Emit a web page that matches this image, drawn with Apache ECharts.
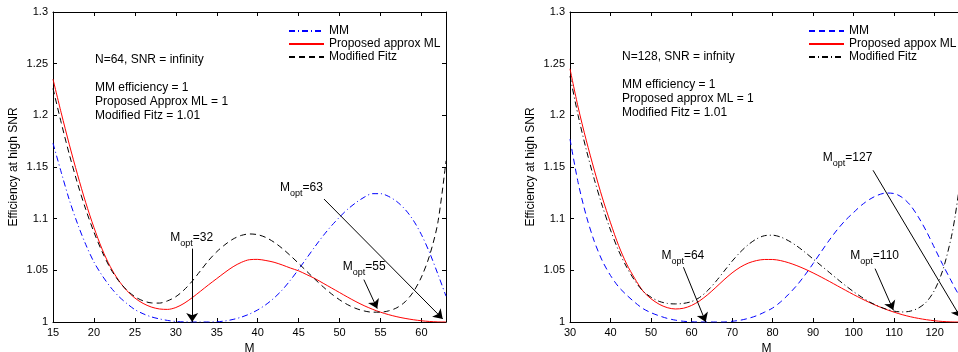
<!DOCTYPE html>
<html>
<head>
<meta charset="utf-8">
<script src="https://cdn.jsdelivr.net/npm/echarts@6/dist/echarts.min.js"></script>
<style>
  html, body { margin: 0; padding: 0; background: #fff; }
  #chart { width: 958px; height: 352px; }
</style>
</head>
<body>
<div id="chart"></div>
<script>
// N = 64 (left panel)
const mLeft = [15, 16, 17, 18, 19, 20, 21, 22, 23, 24, 25, 26, 27, 28, 29, 30, 31, 32, 33, 34, 35, 36, 37, 38, 39,
  40, 41, 42, 43, 44, 45, 46, 47, 48, 49, 50, 51, 52, 53, 54, 55, 56, 57, 58, 59, 60, 61, 62, 63];
const mmLeft = [1.173, 1.145, 1.118, 1.095, 1.075, 1.058, 1.045, 1.034, 1.025, 1.018, 1.012, 1.008, 1.005, 1.003, 1.0015,
  1.0005, 1.0001, 1.0, 1.0, 1.0, 1.0002, 1.001, 1.0025, 1.0047, 1.0077, 1.0117, 1.0168, 1.0232, 1.031, 1.0405, 1.051,
  1.062, 1.073, 1.0835, 1.093, 1.1015, 1.1092, 1.1155, 1.1207, 1.1242, 1.1242, 1.1215, 1.1165, 1.109, 1.0985, 1.0845,
  1.067, 1.0465, 1.025];
const mlLeft = [1.235, 1.2025, 1.1715, 1.1425, 1.1155, 1.0915, 1.0705, 1.0535, 1.0405, 1.0305, 1.0232, 1.018, 1.0145,
  1.0126, 1.0122, 1.014, 1.018, 1.0235, 1.0297, 1.036, 1.042, 1.048, 1.0535, 1.0577, 1.0603, 1.0606, 1.0595, 1.0578,
  1.0552, 1.0522, 1.0495, 1.0458, 1.042, 1.0375, 1.033, 1.0285, 1.024, 1.0197, 1.0158, 1.0124, 1.0095, 1.0071, 1.0051,
  1.0035, 1.0022, 1.0012, 1.0005, 1.0001, 1.0];
const fitzLeft = [1.226, 1.193, 1.162, 1.134, 1.109, 1.087, 1.068, 1.052, 1.040, 1.031, 1.0245, 1.0205, 1.0185, 1.0183,
  1.0205, 1.0245, 1.031, 1.0395, 1.0495, 1.0595, 1.068, 1.0748, 1.0803, 1.0838, 1.0852, 1.0845, 1.0818, 1.0772, 1.0712,
  1.0642, 1.0567, 1.049, 1.0413, 1.034, 1.0273, 1.0215, 1.0167, 1.0131, 1.0107, 1.0095, 1.0095, 1.0108, 1.0138, 1.0195,
  1.029, 1.0435, 1.0645, 1.096, 1.156];

// N = 128 (right panel)
const mRight = [30, 32, 34, 36, 38, 40, 42, 44, 46, 48, 50, 52, 54, 56, 58, 60, 62, 64, 66, 68, 70, 72, 74, 76, 78,
  80, 82, 84, 86, 88, 90, 92, 94, 96, 98, 100, 102, 104, 106, 108, 110, 112, 114, 116, 118, 120, 122, 124, 125, 126, 127];
const mmRight = [1.177, 1.135, 1.103, 1.078, 1.059, 1.045, 1.034, 1.026, 1.019, 1.013, 1.009, 1.006, 1.0035, 1.0018,
  1.0007, 1.0002, 1.0, 1.0, 1.0, 1.0, 1.0007, 1.0017, 1.0035, 1.006, 1.0095, 1.0135, 1.0195, 1.027, 1.0355, 1.0455,
  1.0565, 1.068, 1.0792, 1.0895, 1.0985, 1.106, 1.1132, 1.1188, 1.1228, 1.1248, 1.1243, 1.1205, 1.113, 1.1015, 1.0875,
  1.0715, 1.0555, 1.0405, 1.033, 1.026, 1.019];
const mlRight = [1.245, 1.208, 1.176, 1.147, 1.12, 1.096, 1.074, 1.056, 1.042, 1.030, 1.0225, 1.0172, 1.0139, 1.0126,
  1.0133, 1.016, 1.0205, 1.0265, 1.0335, 1.0408, 1.0475, 1.053, 1.057, 1.0594, 1.0605, 1.0605, 1.0594, 1.0573, 1.0545,
  1.0512, 1.0475, 1.0435, 1.0393, 1.035, 1.0307, 1.0265, 1.0225, 1.0187, 1.0153, 1.0122, 1.0095, 1.0071, 1.0051,
  1.0035, 1.0022, 1.0012, 1.0005, 1.0001, 1.0, 1.0, 1.0];
const fitzRight = [1.238, 1.200, 1.167, 1.138, 1.112, 1.089, 1.069, 1.053, 1.040, 1.030, 1.024, 1.020, 1.018, 1.0175,
  1.018, 1.0198, 1.0238, 1.0305, 1.0392, 1.049, 1.0588, 1.0675, 1.0748, 1.0803, 1.0835, 1.084, 1.0822, 1.0785, 1.0735,
  1.0675, 1.061, 1.0545, 1.048, 1.0415, 1.0352, 1.0293, 1.024, 1.0193, 1.0155, 1.0125, 1.0105, 1.0097, 1.0105, 1.0135,
  1.0195, 1.031, 1.05, 1.08, 1.101, 1.128, 1.16];

// annotation arrows: [fromM, fromEff, toM, toEff]
const arrowsLeft = [[32, 1.071, 32, 1.0], [52.97, 1.041, 54.6, 1.013], [48.1, 1.119, 62.6, 1.003]];
const arrowsRight = [[58, 1.053, 63.5, 1.0], [105.3, 1.0516, 109.8, 1.0115], [104.8, 1.1468, 126.4, 1.0045]];
// M_opt labels: [M, Eff, value]
const labelsLeft = [[31.94, 1.0815, '32'], [53.0, 1.054, '55'], [45.35, 1.130, '63']];
const labelsRight = [[57.85, 1.0646, '64'], [105.2, 1.0646, '110'], [98.5, 1.159, '127']];

const font = 'Liberation Sans, Arial, Helvetica, sans-serif';
const zip = (xs, ys) => xs.map((x, i) => [x, ys[i]]);

const chart = echarts.init(document.getElementById('chart'));

function xAx(gi, min, max, interval, pos) {
  const bottom = pos === 'bottom';
  return {
    type: 'value', gridIndex: gi, position: pos, min: min, max: max, interval: interval,
    name: bottom ? 'M' : '', nameLocation: 'middle', nameGap: 19,
    nameTextStyle: { color: '#000', fontSize: 12, fontFamily: font },
    axisLine: { show: true, onZero: false, lineStyle: { color: '#000', width: 1 } },
    axisTick: { show: true, inside: true, length: 4, lineStyle: { color: '#000' } },
    axisLabel: { show: bottom, showMaxLabel: false, color: '#000', fontSize: 11, fontFamily: font, margin: 5 },
    splitLine: { show: false }
  };
}
function yAx(gi, pos) {
  const left = pos === 'left';
  return {
    type: 'value', gridIndex: gi, position: pos, min: 1, max: 1.3, interval: 0.05,
    name: left ? 'Efficiency at high SNR' : '', nameLocation: 'middle', nameGap: 33,
    nameTextStyle: { color: '#000', fontSize: 12, fontFamily: font },
    axisLine: { show: true, onZero: false, lineStyle: { color: '#000', width: 1 } },
    axisTick: { show: true, inside: true, length: 4, lineStyle: { color: '#000' } },
    axisLabel: { show: left, color: '#000', fontSize: 11, fontFamily: font, margin: 5 },
    splitLine: { show: false }
  };
}

function arrowsMark(list) {
  return {
    silent: true, symbol: ['none', 'arrow'], symbolSize: 9,
    lineStyle: { color: '#000', width: 1, type: 'solid' },
    label: { show: false },
    emphasis: { disabled: true },
    data: list.map(a => [{ coord: [a[0], a[1]] }, { coord: [a[2], a[3]] }])
  };
}
function labelsMark(list) {
  return {
    silent: true, symbol: 'circle', symbolSize: 0,
    data: list.map(l => ({
      coord: [l[0], l[1]],
      label: {
        show: true, position: 'inside',
        formatter: '{a|M}{s|opt}{a|=' + l[2] + '}',
        rich: {
          a: { fontSize: 12, lineHeight: 14, color: '#000', fontFamily: font },
          s: { fontSize: 9, lineHeight: 11, color: '#000', fontFamily: font, padding: [12, 0, 0, 0] }
        }
      }
    }))
  };
}

function line(name, xi, yi, data, color, type, extra) {
  return Object.assign({
    name: name, type: 'line', xAxisIndex: xi, yAxisIndex: yi, data: data,
    symbol: 'none', smooth: 0.3, clip: true,
    lineStyle: { color: color, width: 1, type: type },
    itemStyle: { color: color },
    emphasis: { disabled: true }
  }, extra || {});
}

const dashDot = [6, 3, 1, 3];
const dashed = [6, 4];

function legendAt(left, names) {
  return {
    left: left, top: 20, orient: 'vertical', itemWidth: 35, itemHeight: 14, itemGap: 1,
    itemStyle: { opacity: 0, borderWidth: 0 },
    textStyle: { color: '#000', fontSize: 12, fontFamily: font },
    data: names, selectedMode: false
  };
}

const option = {
  animation: false,
  backgroundColor: '#fff',
  grid: [
    { left: 53, top: 12, width: 393, height: 310, outerBoundsMode: 'none' },
    { left: 570, top: 12, width: 393, height: 310, outerBoundsMode: 'none' }
  ],
  xAxis: [
    xAx(0, 15, 63, 5, 'bottom'), xAx(0, 15, 63, 5, 'top'),
    xAx(1, 30, 127, 10, 'bottom'), xAx(1, 30, 127, 10, 'top')
  ],
  yAxis: [yAx(0, 'left'), yAx(0, 'right'), yAx(1, 'left'), yAx(1, 'right')],
  legend: [
    legendAt(283, ['MM', 'Proposed approx ML', 'Modified Fitz']),
    legendAt(803, ['MM ', 'Proposed appox ML', 'Modified Fitz '])
  ],
  graphic: [
    {
      type: 'text', left: 95, top: 53,
      style: {
        text: 'N=64, SNR = infinity\n\nMM efficiency = 1\nProposed Approx ML = 1\nModified Fitz = 1.01',
        fontSize: 12, fontFamily: font, lineHeight: 14, fill: '#000'
      }
    },
    {
      type: 'text', left: 622, top: 50,
      style: {
        text: 'N=128, SNR = infnity\n\nMM efficiency = 1\nProposed approx ML = 1\nModified Fitz = 1.01',
        fontSize: 12, fontFamily: font, lineHeight: 14, fill: '#000'
      }
    }
  ],
  series: [
    line('MM', 0, 0, zip(mLeft, mmLeft), '#0000ff', dashDot),
    line('Proposed approx ML', 0, 0, zip(mLeft, mlLeft), '#ff0000', 'solid',
      { markLine: arrowsMark(arrowsLeft), markPoint: labelsMark(labelsLeft) }),
    line('Modified Fitz', 0, 0, zip(mLeft, fitzLeft), '#000000', dashed),
    line('MM ', 2, 2, zip(mRight, mmRight), '#0000ff', dashed),
    line('Proposed appox ML', 2, 2, zip(mRight, mlRight), '#ff0000', 'solid',
      { markLine: arrowsMark(arrowsRight), markPoint: labelsMark(labelsRight) }),
    line('Modified Fitz ', 2, 2, zip(mRight, fitzRight), '#000000', dashDot)
  ]
};

chart.setOption(option);
</script>
</body>
</html>
